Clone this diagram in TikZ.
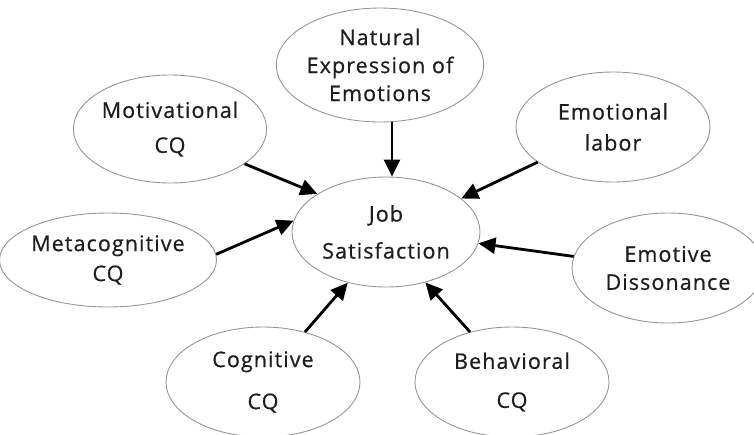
\documentclass[tikz,border=0pt]{standalone}
\usepackage{fontspec}
\usepackage{tikz}
\usetikzlibrary{arrows.meta,shapes.geometric}
\newfontfamily\diagfont{Open Sans}[LetterSpace=5,FakeBold=0.6]
\definecolor{ell_gray}{RGB}{150, 150, 150}
\definecolor{txt_gray}{RGB}{30, 30, 30}
\tikzstyle{bub}=[ellipse,draw=ell_gray,line width=0.9pt,inner sep=0pt,
  align=center,text=txt_gray,font=\diagfont\fontsize{21.5}{28}\selectfont]
\tikzstyle{arr}=[line width=2.8pt,-{Triangle[length=17pt,width=16pt]}]

\begin{document}
\begin{tikzpicture}[x=1pt,y=-1pt]
        \useasboundingbox (0,0) rectangle (754,434);
        \node[style=bub,minimum width=176,minimum height=114] (nat) at (380,65) {Natural\\Expression of\\Emotions};
        \node[style=bub,minimum width=180,minimum height=108] (mot) at (170,129) {Motivational\\[7pt]CQ};
        \node[style=bub,minimum width=194,minimum height=110] (emo) at (613,127) {Emotional\\[3pt]labor};
        \node[style=bub,minimum width=188,minimum height=110] (job) at (386,232) {Job\\[9pt]Satisfaction};
        \node[style=bub,minimum width=190,minimum height=94] (meta) at (108,260) {Metacognitive\\[2pt]CQ};
        \node[style=bub,minimum width=192,minimum height=110] (diss) at (668,268) {Emotive\\Dissonance};
        \node[style=bub,minimum width=194,minimum height=110] (cog) at (263,382) {Cognitive\\[14pt]CQ};
        \node[style=bub,minimum width=194,minimum height=110] (beh) at (512,382) {Behavioral\\[11pt]CQ};
        \draw[style=arr] ([xshift=12]nat.south) to ([xshift=6]job.north);
        \draw[style=arr] (mot.-25) to (job.151);
        \draw[style=arr] (emo.-155) to (job.24);
        \draw[style=arr] (meta.3) to (job.173);
        \draw[style=arr] (diss.173) to (job.-7);
        \draw[style=arr] (cog.50) to (job.-127);
        \draw[style=arr] (beh.130) to (job.-52);
    \end{tikzpicture}
\end{document}
